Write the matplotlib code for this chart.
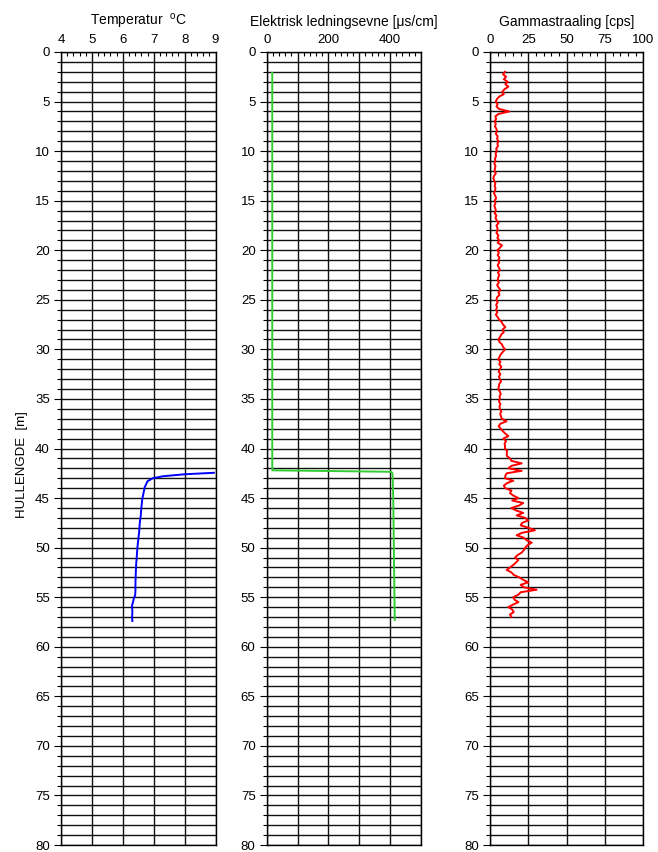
import numpy as np
import matplotlib
matplotlib.use("Agg")
import matplotlib.pyplot as plt
from matplotlib.ticker import MultipleLocator, FuncFormatter

plt.rcParams['font.family'] = ['Liberation Sans', 'DejaVu Sans']

# temperatur-logg (dybde m, grader C)
temp_depth = [42.45, 42.6, 42.8, 43.0, 43.3, 43.9, 44.5, 45.1, 46.0, 46.8, 47.5, 48.4,
              49.2, 50.1, 51.0, 51.8, 52.6, 53.5, 54.2, 54.8, 55.1, 55.5, 55.8, 56.5,
              57.0, 57.4]
temp_val = [8.95, 8.0, 7.3, 6.97, 6.8, 6.71, 6.67, 6.63, 6.6, 6.58, 6.55, 6.53,
            6.5, 6.47, 6.45, 6.43, 6.42, 6.41, 6.41, 6.40, 6.36, 6.33, 6.30, 6.31,
            6.30, 6.31]

# elektrisk ledningsevne (muS/cm)
cond_depth = [2.1, 42.2, 42.35, 42.5, 42.7, 45.0, 50.0, 55.0, 57.3]
cond_val = [18, 18, 404, 407, 408, 410, 412, 414, 415]

# gammastraaling (cps), sampling hver 0.25 m fra 2.0 m
gamma_depth = np.arange(2.0, 57.3, 0.25)
gamma_val = [
    9.8, 8.5, 10.5, 9.0, 11.5, 10.0, 12.0, 9.5, 8.0, 9.0, 6.0, 4.5,
    3.8, 5.0, 4.2, 6.0, 12.6, 5.5, 3.5, 4.0, 3.0, 3.8, 3.2, 4.2,
    4.5, 3.8, 5.0, 4.6, 5.5, 4.8, 5.2, 4.0, 4.5, 3.6, 4.0, 3.2,
    3.5, 2.8, 3.6, 3.2, 3.0, 3.8, 2.6, 2.2, 2.8, 3.5, 3.0, 3.6,
    3.2, 2.6, 3.4, 4.0, 3.0, 3.6, 2.8, 3.4, 3.8, 3.0, 4.2, 3.5,
    4.5, 5.6, 4.2, 4.8, 5.0, 4.2, 5.5, 4.8, 6.0, 5.0, 7.8, 6.5,
    4.8, 5.8, 5.0, 6.2, 5.4, 6.0, 5.0, 5.8, 6.5, 5.2, 6.0, 5.4,
    5.0, 5.8, 4.6, 5.6, 6.8, 5.5, 6.2, 4.6, 4.2, 5.0, 4.0, 4.6,
    4.0, 4.8, 3.8, 5.0, 6.0, 7.6, 8.5, 10.0, 8.2, 9.0, 7.4, 6.5,
    5.5, 6.2, 7.8, 8.5, 9.8, 8.4, 7.0, 6.2, 5.4, 6.8, 6.0, 7.4,
    6.5, 5.6, 6.8, 5.8, 6.5, 7.2, 6.0, 5.8, 5.4, 6.4, 7.0, 6.2,
    6.5, 5.8, 6.8, 6.2, 6.5, 7.4, 6.6, 7.2, 7.6, 10.8, 6.8, 5.6,
    7.0, 8.4, 10.0, 12.0, 8.7, 10.5, 9.5, 9.8, 9.8, 11.2, 10.9, 11.0,
    13.0, 14.0, 20.7, 14.0, 12.0, 20.7, 10.9, 10.0, 9.8, 15.2, 11.0, 9.0,
    10.0, 14.0, 13.0, 15.2, 18.5, 14.5, 21.7, 19.0, 14.0, 17.0, 21.7, 17.4,
    23.0, 25.0, 21.0, 20.0, 25.0, 29.3, 21.0, 17.4, 22.0, 23.9, 27.2, 24.5,
    23.0, 22.0, 20.7, 18.0, 16.3, 18.5, 17.0, 15.2, 13.0, 10.9, 14.0, 15.5,
    19.0, 21.7, 25.0, 20.0, 22.0, 30.4, 20.0, 18.5, 15.2, 16.0, 18.5, 15.0,
    12.0, 14.5, 15.5, 13.0, 14.0]
gamma_depth = gamma_depth[:len(gamma_val)]

fig = plt.figure(figsize=(6.58, 8.52), dpi=100)

W, H = 658.0, 852.0
top, bot = 52.0, 845.0
panels = [
    (61.0, 215.5, (4, 9), 1, 1, 0.2, temp_val, temp_depth, '#0000ff', 'Temperatur  $\\mathregular{^o}$C'),
    (266.7, 421.0, (0, 500), 100, 200, 20, cond_val, cond_depth, '#33cc33', 'Elektrisk ledningsevne [\u03bcs/cm]'),
    (490.0, 643.3, (0, 100), 25, 25, 5, gamma_val, gamma_depth, '#ff0000', 'Gammastraaling [cps]'),
]


def make_fmt(step, hi):
    def f(v, pos):
        if round(v) % step == 0 and v < hi + 1e-6:
            return '%g' % v
        return ''
    return FuncFormatter(f)


for x0, x1, xlim, major, lab_step, minor, xs, ys, col, title in panels:
    ax = fig.add_axes([x0 / W, 1 - bot / H, (x1 - x0) / W, (bot - top) / H])
    ax.set_xlim(*xlim)
    ax.set_ylim(80, 0)
    ax.xaxis.set_major_locator(MultipleLocator(major))
    ax.xaxis.set_minor_locator(MultipleLocator(minor))
    hi = 400 if xlim[1] == 500 else xlim[1]
    ax.xaxis.set_major_formatter(make_fmt(lab_step, hi))
    ax.yaxis.set_major_locator(MultipleLocator(5))
    ax.yaxis.set_minor_locator(MultipleLocator(1))
    ax.tick_params(axis='x', which='both', top=True, bottom=False,
                   labeltop=True, labelbottom=False, direction='in',
                   labelsize=9.5, pad=4)
    ax.tick_params(axis='x', which='major', length=0)
    ax.tick_params(axis='x', which='minor', length=3, width=0.8)
    ax.tick_params(axis='y', which='major', length=5, width=0.8, labelsize=9.5, pad=3)
    ax.tick_params(axis='y', which='minor', length=3, width=0.8)
    ax.grid(True, axis='x', which='major', color='#111111', linewidth=1.0)
    ax.grid(True, axis='y', which='both', color='#111111', linewidth=1.0)
    for sp in ax.spines.values():
        sp.set_linewidth(1.0)
    ax.set_axisbelow(True)
    ax.plot(xs, ys, color=col, linewidth=1.4)
    ax.set_title(title, fontsize=10, pad=19)

fig.text(22 / W, 1 - 465 / H, 'HULLENGDE  [m]', rotation=90, ha='center', va='center', fontsize=9.5)

fig.savefig('out.png', dpi=100)
